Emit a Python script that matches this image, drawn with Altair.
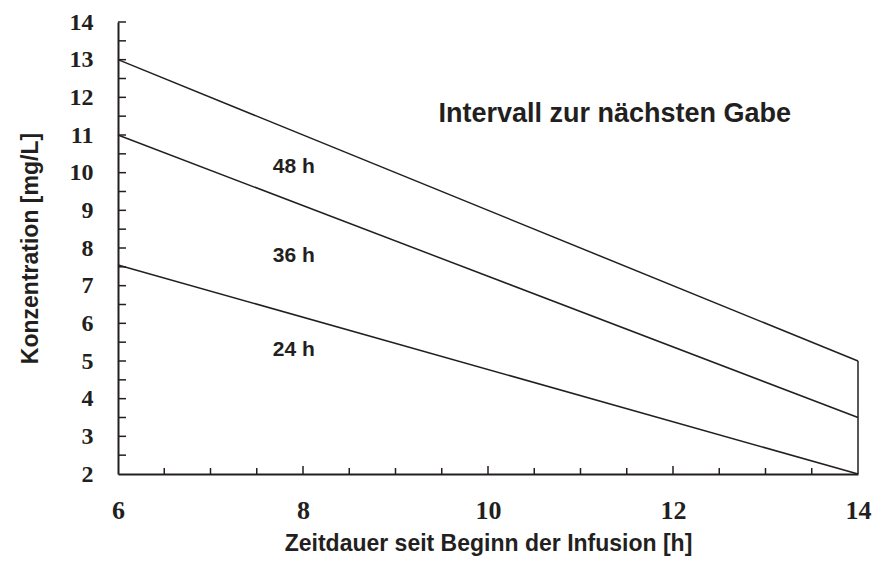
import altair as alt
import pandas as pd

# ---- data ----
hours = [6, 14]
conc_48h = [13.0, 5.0]
conc_36h = [11.0, 3.5]
conc_24h = [7.55, 2.0]
series_names = ["48 h", "36 h", "24 h"]

label_text = ["48 h", "36 h", "24 h"]
label_x = [7.9, 7.9, 7.9]
label_y = [10.15, 7.8, 5.3]

annot_text = ["Intervall zur nächsten Gabe"]
annot_x = [11.37]
annot_y = [11.55]

x_major = [6, 8, 10, 12, 14]
x_minor = [6.5, 7, 7.5, 8.5, 9, 9.5, 10.5, 11, 11.5, 12.5, 13, 13.5]
x_major_inner = [8, 10, 12]
y_labels = [2, 3, 4, 5, 6, 7, 8, 9, 10, 11, 12, 13, 14]
y_ticks = [2.5, 3, 3.5, 4, 4.5, 5, 5.5, 6, 6.5, 7, 7.5, 8, 8.5, 9, 9.5,
           10, 10.5, 11, 11.5, 12, 12.5, 13, 13.5, 14]

# ---- tables ----
rows = []
for name, vals in zip(series_names, [conc_48h, conc_36h, conc_24h]):
    for h, v in zip(hours, vals):
        rows.append({"series": name, "t": h, "c": v})
lines_df = pd.DataFrame(rows)

ends = [conc_24h[-1], conc_36h[-1], conc_48h[-1]]
edge_df = pd.DataFrame({"t": [hours[-1]], "c": [min(ends)], "c2": [max(ends)]})
labels_df = pd.DataFrame({"text": label_text, "t": label_x, "c": label_y})
annot_df = pd.DataFrame({"text": annot_text, "t": annot_x, "c": annot_y})
xmin_df = pd.DataFrame({"t": x_minor})
xmaj_df = pd.DataFrame({"t": x_major_inner})
ytick_df = pd.DataFrame({"c": y_ticks})

W, H = 740, 452
INK = "#231f20"

xscale = alt.Scale(domain=[6, 14], nice=False, zero=False)
yscale = alt.Scale(domain=[2, 14], nice=False, zero=False)

xaxis = alt.Axis(values=x_major, format="d", labelOverlap=False, labelFlush=False,
                 title="Zeitdauer seit Beginn der Infusion [h]")
yaxis = alt.Axis(values=y_labels, format="d", labelOverlap=False, labelFlush=False,
                 title="Konzentration [mg/L]")

X = alt.X("t:Q", scale=xscale, axis=xaxis)
Y = alt.Y("c:Q", scale=yscale, axis=yaxis)

base_lines = alt.Chart(lines_df).mark_line(color=INK, strokeWidth=1.5).encode(
    x=X, y=Y, detail="series:N",
)

edge = alt.Chart(edge_df).mark_rule(color=INK, strokeWidth=1.5).encode(
    x=X, y=Y, y2="c2:Q"
)

xt_min = alt.Chart(xmin_df).mark_rule(color=INK, strokeWidth=1.5).encode(
    x=X, y=alt.value(H), y2=alt.value(H - 6)
)
xt_maj = alt.Chart(xmaj_df).mark_rule(color=INK, strokeWidth=1.5).encode(
    x=X, y=alt.value(H), y2=alt.value(H - 8)
)
yt = alt.Chart(ytick_df).mark_rule(color=INK, strokeWidth=1.5).encode(
    y=Y, x=alt.value(0), x2=alt.value(8)
)

labels = alt.Chart(labels_df).mark_text(font="Liberation Sans", fontWeight="bold", fontSize=21,
                                        color=INK, align="center", baseline="middle").encode(
    x=X, y=Y, text="text:N"
)
annot = alt.Chart(annot_df).mark_text(font="Liberation Sans", fontWeight="bold", fontSize=27,
                                      color=INK, align="center", baseline="middle").encode(
    x=X, y=Y, text="text:N"
)

chart = alt.layer(base_lines, edge, xt_min, xt_maj, yt, labels, annot).properties(
    width=W, height=H,
    padding={"left": 110, "top": 14, "right": 14, "bottom": 86},
    autosize=alt.AutoSizeParams(type="none"),
    background="white",
).configure_view(stroke=None).configure_axis(
    ticks=False, grid=False, labelFlush=False, labelOverlap=False,
    labelFont="Liberation Serif", labelFontWeight="bold", labelColor=INK,
    domainColor=INK, domainWidth=2,
    titleFont="Liberation Sans", titleFontWeight="bold", titleFontSize=23, titleColor=INK,
).configure_axisX(labelFontSize=26, labelPadding=23, titlePadding=9).configure_axisY(
    labelFontSize=24, labelPadding=25, titlePadding=27)

chart.save("out.html", embed_options={"renderer": "svg", "actions": False})
